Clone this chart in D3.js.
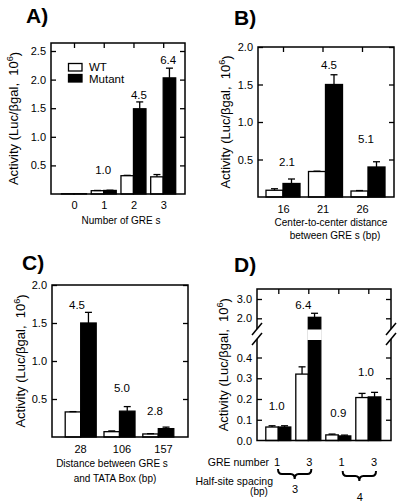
<!DOCTYPE html>
<html><head><meta charset="utf-8">
<script src="https://cdn.jsdelivr.net/npm/d3@7"></script>
<style>
body{margin:0;background:#fff}
svg{display:block}
text{font-family:"Liberation Sans",Arial,Helvetica,sans-serif;fill:#000}
</style>
</head><body>
<svg id="chart" width="404" height="504"></svg>
<script>
// ---------------- DATA ----------------
const seriesNames = ["WT", "Mutant"];
const yTitleMain = "Activity (Luc/\u03B2gal,\u00A0\u00A010";
const yTitleSup = "6";

const aCategories = ["0", "1", "2", "3"];
const aWT = [0.004, 0.058, 0.32, 0.30];
const aWTerr = [0, 0.004, 0.006, 0.04];
const aMutant = [0.004, 0.062, 1.49, 2.03];
const aMutantErr = [0, 0.004, 0.12, 0.17];
const aFold = ["", "1.0", "4.5", "6.4"];
const aTicks = [0.5, 1.0, 1.5, 2.0, 2.5];
const aXTitle = ["Number of GRE s"];

const bCategories = ["16", "21", "26"];
const bWT = [0.09, 0.34, 0.08];
const bWTerr = [0.02, 0.004, 0.006];
const bMutant = [0.18, 1.50, 0.40];
const bMutantErr = [0.06, 0.13, 0.07];
const bFold = ["2.1", "4.5", "5.1"];
const bTicks = [0.5, 1.0, 1.5, 2.0];
const bXTitle = ["Center-to-center distance", "between GRE s (bp)"];

const cCategories = ["28", "106", "157"];
const cWT = [0.33, 0.07, 0.04];
const cWTerr = [0.004, 0.01, 0.004];
const cMutant = [1.50, 0.34, 0.11];
const cMutantErr = [0.14, 0.06, 0.02];
const cFold = ["4.5", "5.0", "2.8"];
const cTicks = [0.5, 1.0, 1.5, 2.0];
const cXTitle = ["Distance between GRE s", "and TATA Box (bp)"];

const dGreNumber = ["1", "3", "1", "3"];
const dSpacing = ["3", "4"];
const dWT = [0.065, 0.32, 0.027, 0.207];
const dWTerr = [0.006, 0.035, 0.004, 0.02];
const dMutant = [0.065, 2.05, 0.022, 0.21];
const dMutantErr = [0.006, 0.21, 0.004, 0.022];
const dFold = ["1.0", "6.4", "0.9", "1.0"];
const dTicksLow = [0.0, 0.1, 0.2, 0.3, 0.4];
const dTicksHigh = [2.0, 3.0];
const dRowLabels = ["GRE number", "Half-site spacing", "(bp)"];

// ---------------- DRAWING ----------------
const svg = d3.select("#chart");
const FS_TICK = 11, FS_FOLD = 11.5, FS_TITLE = 10, FS_Y = 13;
const SW = 1.3;

function yTitle(g, x, yc) {
  const t = g.append("text")
    .attr("transform", `translate(${x},${yc}) rotate(-90)`)
    .attr("text-anchor", "middle").attr("dy", "0.35em")
    .style("font-size", FS_Y + "px");
  t.append("tspan").text(yTitleMain);
  t.append("tspan").attr("dy", "-0.45em").style("font-size", (FS_Y * 0.7) + "px").text(yTitleSup);
  t.append("tspan").attr("dy", "0.45em").text(")");
}

function panelLetter(x, y, s) {
  svg.append("text").attr("x", x).attr("y", y).text(s)
    .style("font-size", "21px").style("font-weight", "bold");
}

function bars(g, xb, yOf, base, wt, wtErr, mut, mutErr, w) {
  const n = wt.length;
  const idx = d3.range(n);
  g.selectAll(null).data(idx).join("rect")
    .attr("x", i => xb(i) - w).attr("width", w)
    .attr("y", i => yOf(wt[i])).attr("height", i => base - yOf(wt[i]))
    .attr("fill", "#fff").attr("stroke", "#000").attr("stroke-width", SW);
  g.selectAll(null).data(idx).join("rect")
    .attr("x", i => xb(i)).attr("width", w)
    .attr("y", i => yOf(mut[i])).attr("height", i => base - yOf(mut[i]))
    .attr("fill", "#000").attr("stroke", "#000").attr("stroke-width", SW);
  const eb = [];
  idx.forEach(i => {
    if (wtErr[i] > 0) eb.push({cx: xb(i) - w / 2, v: wt[i], e: wtErr[i]});
    if (mutErr[i] > 0) eb.push({cx: xb(i) + w / 2, v: mut[i], e: mutErr[i]});
  });
  eb.forEach(d => {
    const y0 = yOf(d.v), y1 = yOf(d.v + d.e);
    g.append("line").attr("x1", d.cx).attr("x2", d.cx).attr("y1", y0).attr("y2", y1)
      .attr("stroke", "#000").attr("stroke-width", SW);
    g.append("line").attr("x1", d.cx - 3.5).attr("x2", d.cx + 3.5).attr("y1", y1).attr("y2", y1)
      .attr("stroke", "#000").attr("stroke-width", SW);
  });
}

function foldLabels(g, xb, yOf, vals, errs, fold, dx, gap) {
  fold.forEach((s, i) => {
    if (!s) return;
    g.append("text").attr("x", xb(i) + dx[i]).attr("y", yOf(vals[i] + errs[i]) - gap[i])
      .attr("text-anchor", "middle").attr("dy", "0.35em")
      .style("font-size", FS_FOLD + "px").text(s);
  });
}

function standardPanel(o) {
  const g = svg.append("g");
  const y = d3.scaleLinear().domain(o.yDomain).range([o.bottom, o.top]);
  const n = o.cats.length;
  const xb = d3.scalePoint().domain(d3.range(n)).range(o.barRange);
  const xt = d3.scalePoint().domain(o.cats).range(o.tickRange);

  bars(g, xb, y, o.bottom, o.wt, o.wtErr, o.mut, o.mutErr, o.barW);

  g.append("rect").attr("x", o.left).attr("y", o.top)
    .attr("width", o.right - o.left).attr("height", o.bottom - o.top)
    .attr("fill", "none").attr("stroke", "#000").attr("stroke-width", 1.5);

  const la = g.append("g").attr("transform", `translate(${o.left},0)`)
    .call(d3.axisLeft(y).tickValues(o.ticks).tickFormat(d3.format(".1f")).tickSize(-5).tickPadding(5));
  const ra = g.append("g").attr("transform", `translate(${o.right},0)`)
    .call(d3.axisRight(y).tickValues(o.ticks).tickFormat("").tickSize(-5));
  const ba = g.append("g").attr("transform", `translate(0,${o.bottom})`)
    .call(d3.axisBottom(xt).tickSize(0).tickPadding(o.xPad));
  [la, ra, ba].forEach(a => {
    a.select(".domain").remove();
    a.selectAll("line").attr("stroke-width", 1.3);
    a.selectAll("text").style("font-size", FS_TICK + "px")
      .style("font-family", '"Liberation Sans",Arial,sans-serif');
  });
  if (o.topTicks) {
    const ta = g.append("g").attr("transform", `translate(0,${o.top})`)
      .call(d3.axisTop(xt).tickFormat("").tickSize(-5));
    ta.select(".domain").remove();
    ta.selectAll("line").attr("stroke-width", 1.3);
  }
  foldLabels(g, xb, y, o.mut, o.mutErr, o.fold, o.foldDx, o.foldGap);
  yTitle(g, o.yTitleX, (o.top + o.bottom) / 2);
  o.xTitle.forEach((s, i) => {
    g.append("text").attr("x", o.xTitleX[i]).attr("y", o.xTitleY[i])
      .attr("text-anchor", "middle").style("font-size", FS_TITLE + "px").text(s);
  });
  return {g, y, xb, xt};
}

// Panel A
panelLetter(26, 23, "A)");
const A = standardPanel({
  cats: aCategories, wt: aWT, wtErr: aWTerr, mut: aMutant, mutErr: aMutantErr,
  fold: aFold, ticks: aTicks, yDomain: [0, 2.64],
  left: 51, right: 185, top: 43, bottom: 194,
  barRange: [74, 163.2], tickRange: [74, 163.2], barW: 12.5, xPad: 7, topTicks: true,
  foldDx: [0, -0.5, 5.5, 5], foldGap: [0, 20, 7, 8],
  yTitleX: 13, xTitle: aXTitle, xTitleX: [121], xTitleY: [224]
});
const lg = A.g.append("g");
seriesNames.forEach((s, i) => {
  lg.append("rect").attr("x", 68.5).attr("y", 63.5 + i * 11).attr("width", 13.5).attr("height", 7.5)
    .attr("fill", i ? "#000" : "#fff").attr("stroke", "#000").attr("stroke-width", SW);
  lg.append("text").attr("x", 89).attr("y", 66.6 + i * 12.2).attr("dy", "0.35em")
    .style("font-size", "11.5px").text(s);
});

// Panel B
panelLetter(234, 25, "B)");
standardPanel({
  cats: bCategories, wt: bWT, wtErr: bWTerr, mut: bMutant, mutErr: bMutantErr,
  fold: bFold, ticks: bTicks, yDomain: [0, 2],
  left: 258, right: 394, top: 47, bottom: 197,
  barRange: [283, 368], tickRange: [283, 362], barW: 17, xPad: 8, topTicks: true,
  foldDx: [4, 3.5, -2], foldGap: [17, 10, 23],
  yTitleX: 225, xTitle: bXTitle, xTitleX: [331, 335], xTitleY: [226, 239]
});

// Panel C
panelLetter(22, 270, "C)");
standardPanel({
  cats: cCategories, wt: cWT, wtErr: cWTerr, mut: cMutant, mutErr: cMutantErr,
  fold: cFold, ticks: cTicks, yDomain: [0, 2],
  left: 52, right: 188, top: 285, bottom: 437,
  barRange: [80.7, 158.3], tickRange: [80, 163], barW: 15.5, xPad: 8, topTicks: false,
  foldDx: [-3.7, 2.4, -3.3], foldGap: [7, 18.6, 16],
  yTitleX: 20, xTitle: cXTitle, xTitleX: [112, 115], xTitleY: [467, 482]
});

// Panel D (broken axis)
panelLetter(234, 272, "D)");
(function () {
  const g = svg.append("g");
  const L = 257, R = 391, T = 289, B = 440.5;
  const yL = d3.scaleLinear().domain([0, 0.4]).range([B, 357.5]);
  const yH = d3.scaleLinear().domain([2, 3]).range([318.3, 299]);
  const yOf = v => v > 1 ? yH(v) : yL(v);
  const xb = d3.scalePoint().domain(d3.range(dWT.length)).range([278.3, 368.3]);
  bars(g, xb, yOf, B, dWT, dWTerr, dMutant, dMutantErr, 12.5);
  const gapTop = 329.5, gapBot = 340;
  dMutant.forEach((v, i) => {
    if (v > 1) g.append("rect").attr("x", xb(i) - 1).attr("width", 14.5)
      .attr("y", gapTop).attr("height", gapBot - gapTop).attr("fill", "#fff");
  });
  const fr = g.append("g").attr("stroke", "#000").attr("stroke-width", 1.5).attr("fill", "none");
  fr.append("path").attr("d", `M${L},329 L${L},${T} L${R},${T} L${R},329`);
  fr.append("path").attr("d", `M${L},339 L${L},${B} L${R},${B} L${R},339`);
  [L, R].forEach(x => {
    fr.append("line").attr("x1", x - 5).attr("y1", 335).attr("x2", x + 5).attr("y2", 323);
    fr.append("line").attr("x1", x - 5).attr("y1", 345).attr("x2", x + 5).attr("y2", 333);
  });
  const fmt = d3.format(".1f");
  const axes = [
    g.append("g").attr("transform", `translate(${L},0)`).call(d3.axisLeft(yL).tickValues(dTicksLow).tickFormat(fmt).tickSize(-5).tickPadding(5)),
    g.append("g").attr("transform", `translate(${L},0)`).call(d3.axisLeft(yH).tickValues(dTicksHigh).tickFormat(fmt).tickSize(-5).tickPadding(5)),
    g.append("g").attr("transform", `translate(${R},0)`).call(d3.axisRight(yL).tickValues(dTicksLow.slice(1)).tickFormat("").tickSize(-5)),
    g.append("g").attr("transform", `translate(${R},0)`).call(d3.axisRight(yH).tickValues(dTicksHigh).tickFormat("").tickSize(-5)),
    g.append("g").attr("transform", `translate(0,${T})`).call(d3.axisTop(xb).tickFormat("").tickSize(-5))
  ];
  axes.forEach(a => {
    a.select(".domain").remove();
    a.selectAll("line").attr("stroke-width", 1.3);
    a.selectAll("text").style("font-size", FS_TICK + "px").style("font-family", '"Liberation Sans",Arial,sans-serif');
  });
  axes[0].selectAll(".tick").filter(d => d === 0).select("line").remove();
  foldLabels(g, xb, yOf, dMutant, dMutantErr, dFold, [-1.6, -5, 0, -2.3], [20, 8, 22, 20]);
  yTitle(g, 223, (T + B) / 2);

  const xn = d3.scalePoint().domain(d3.range(dGreNumber.length)).range([277, 374]);
  g.append("text").attr("x", 269).attr("y", 465.5).attr("text-anchor", "end")
    .style("font-size", "10.5px").text(dRowLabels[0]);
  dGreNumber.forEach((s, i) => g.append("text").attr("x", xn(i)).attr("y", 465.5)
    .attr("text-anchor", "middle").style("font-size", FS_TICK + "px").text(s));
  g.append("text").attr("x", 273).attr("y", 484.5).attr("text-anchor", "end")
    .style("font-size", "10.5px").text(dRowLabels[1]);
  g.append("text").attr("x", 259).attr("y", 494.5).attr("text-anchor", "middle")
    .style("font-size", "10px").text(dRowLabels[2]);
  function brace(x1, x2, y0, h) {
    const m = (x1 + x2) / 2, q = 4;
    return `M${x1},${y0} Q${x1},${y0 + h / 2} ${x1 + q},${y0 + h / 2} L${m - q},${y0 + h / 2} Q${m},${y0 + h / 2} ${m},${y0 + h} Q${m},${y0 + h / 2} ${m + q},${y0 + h / 2} L${x2 - q},${y0 + h / 2} Q${x2},${y0 + h / 2} ${x2},${y0}`;
  }
  const braceSpans = [[xn(0), xn(1)], [xn(2), xn(3)]];
  braceSpans.forEach((sp, i) => {
    g.append("path").attr("d", brace(sp[0] + 1, sp[1] + 2, 469 + i * 2, 10))
      .attr("fill", "none").attr("stroke", "#000").attr("stroke-width", 2);
    g.append("text").attr("x", (sp[0] + sp[1]) / 2 + 2).attr("y", 493 + i * 8)
      .attr("text-anchor", "middle").style("font-size", FS_TICK + "px").text(dSpacing[i]);
  });
})();
</script>
</body></html>
